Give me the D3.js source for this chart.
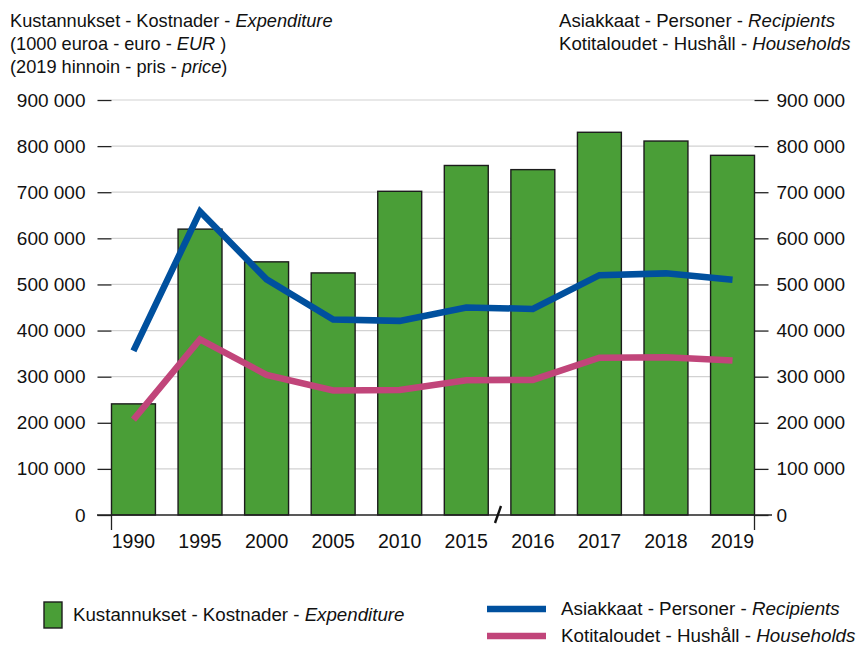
<!DOCTYPE html>
<html>
<head>
<meta charset="utf-8">
<script src="https://cdn.jsdelivr.net/npm/d3@7"></script>
<style>
  body { margin: 0; background: #fff; }
  svg { font-family: "Liberation Sans", Arial, Helvetica, sans-serif; }
</style>
</head>
<body>
<div id="chart"></div>
<script>
var width = 857,
  height = 647;

// values
var years = ["1990", "1995", "2000", "2005", "2010", "2015", "2016", "2017", "2018", "2019"];
var expenditure = [241000, 620000, 549000, 525000, 702000, 758000, 749000, 830000, 811000, 780000];
var recipients = [356000, 658000, 511000, 424000, 421000, 450000, 447000, 520000, 524000, 510000];
var households = [207000, 381000, 304000, 270000, 271000, 292000, 293000, 341000, 342000, 335000];
var yTicks = [0, 100000, 200000, 300000, 400000, 500000, 600000, 700000, 800000, 900000];

var plotLeft = 111.5, plotRight = 754.5, plotTop = 100, plotBottom = 515;

var svg = d3.select("#chart")
  .append("svg")
  .attr("width", width)
  .attr("height", height);

var locale = d3.formatLocale({ decimal: ",", thousands: " ", grouping: [3], currency: ["", ""] });
var fmt = locale.format(",");

var x = d3.scaleBand()
  .domain(years)
  .range([plotLeft, plotRight])
  .paddingInner(0.34)
  .paddingOuter(0);

var y = d3.scaleLinear()
  .domain([0, 900000])
  .range([plotBottom, plotTop]);

// gridlines
svg.append("g")
  .selectAll("line")
  .data(yTicks.slice(1))
  .enter().append("line")
  .attr("x1", plotLeft).attr("x2", plotRight)
  .attr("y1", function (d) { return y(d); })
  .attr("y2", function (d) { return y(d); })
  .attr("stroke", "#d2d2d2")
  .attr("stroke-width", 1.2);

// left axis
var yLeft = svg.append("g")
  .attr("transform", "translate(" + plotLeft + ",0)")
  .call(d3.axisLeft(y).tickValues(yTicks).tickSize(14).tickPadding(12).tickFormat(fmt));
yLeft.select(".domain").remove();

// right axis
var yRight = svg.append("g")
  .attr("transform", "translate(" + plotRight + ",0)")
  .call(d3.axisRight(y).tickValues(yTicks).tickSize(14).tickPadding(8).tickFormat(fmt));
yRight.select(".domain").remove();

svg.selectAll(".tick text")
  .attr("font-size", 19)
  .attr("font-family", "Liberation Sans, Arial, sans-serif")
  .attr("fill", "#111");
svg.selectAll(".tick line")
  .attr("stroke", "#222")
  .attr("stroke-width", 1.3);

// bars
svg.append("g")
  .selectAll("rect")
  .data(expenditure)
  .enter().append("rect")
  .attr("x", function (d, i) { return x(years[i]); })
  .attr("y", function (d) { return y(d); })
  .attr("width", x.bandwidth())
  .attr("height", function (d) { return y(0) - y(d); })
  .attr("fill", "#4a9e37")
  .attr("stroke", "#1c1c1c")
  .attr("stroke-width", 1.4);

// baseline and end ticks
svg.append("line")
  .attr("x1", 97).attr("x2", 772)
  .attr("y1", y(0)).attr("y2", y(0))
  .attr("stroke", "#222").attr("stroke-width", 1.3);
svg.append("g")
  .selectAll("line")
  .data([plotLeft, plotRight])
  .enter().append("line")
  .attr("x1", function (d) { return d; })
  .attr("x2", function (d) { return d; })
  .attr("y1", y(0)).attr("y2", y(0) + 15)
  .attr("stroke", "#222").attr("stroke-width", 1.3);

// axis break between 2015 and 2016
svg.append("line")
  .attr("x1", 495).attr("y1", 523)
  .attr("x2", 501).attr("y2", 506)
  .attr("stroke", "#111").attr("stroke-width", 2.4);

// x labels
svg.append("g")
  .selectAll("text")
  .data(years)
  .enter().append("text")
  .attr("x", function (d) { return x(d) + x.bandwidth() / 2; })
  .attr("y", 548)
  .attr("text-anchor", "middle")
  .attr("font-size", 19.5)
  .attr("fill", "#111")
  .text(function (d) { return d; });

// lines
var line = d3.line()
  .x(function (d, i) { return x(years[i]) + x.bandwidth() / 2; })
  .y(function (d) { return y(d); });

svg.append("path")
  .datum(households)
  .attr("d", line)
  .attr("fill", "none")
  .attr("stroke", "#c1457a")
  .attr("stroke-width", 6.5);

svg.append("path")
  .datum(recipients)
  .attr("d", line)
  .attr("fill", "none")
  .attr("stroke", "#00509e")
  .attr("stroke-width", 6.5);

// headers
function richText(g, xPos, yPos, size, parts) {
  var t = g.append("text")
    .attr("x", xPos).attr("y", yPos)
    .attr("font-size", size)
    .attr("fill", "#111");
  parts.forEach(function (p) {
    t.append("tspan")
      .attr("font-style", p[1] ? "italic" : "normal")
      .text(p[0]);
  });
  return t;
}

richText(svg, 10, 27, 18.2, [["Kustannukset - Kostnader - ", false], ["Expenditure", true]]);
richText(svg, 10, 50, 18.2, [["(1000 euroa - euro - ", false], ["EUR", true], [" )", false]]);
richText(svg, 10, 73, 18.2, [["(2019 hinnoin - pris - ", false], ["price", true], [")", false]]);

richText(svg, 559, 27, 18.6, [["Asiakkaat - Personer - ", false], ["Recipients", true]]);
richText(svg, 559, 50, 18.6, [["Kotitaloudet - Hushåll - ", false], ["Households", true]]);

// legend
svg.append("rect")
  .attr("x", 44).attr("y", 602)
  .attr("width", 18).attr("height", 26)
  .attr("fill", "#4a9e37")
  .attr("stroke", "#1c1c1c").attr("stroke-width", 1.4);
richText(svg, 73, 621, 18.7, [["Kustannukset - Kostnader - ", false], ["Expenditure", true]]);

svg.append("line")
  .attr("x1", 487).attr("x2", 546)
  .attr("y1", 609).attr("y2", 609)
  .attr("stroke", "#00509e").attr("stroke-width", 6.5);
richText(svg, 561, 615, 18.8, [["Asiakkaat - Personer - ", false], ["Recipients", true]]);

svg.append("line")
  .attr("x1", 487).attr("x2", 546)
  .attr("y1", 636).attr("y2", 636)
  .attr("stroke", "#c1457a").attr("stroke-width", 6.5);
richText(svg, 561, 642, 18.8, [["Kotitaloudet - Hushåll - ", false], ["Households", true]]);
</script>
</body>
</html>
